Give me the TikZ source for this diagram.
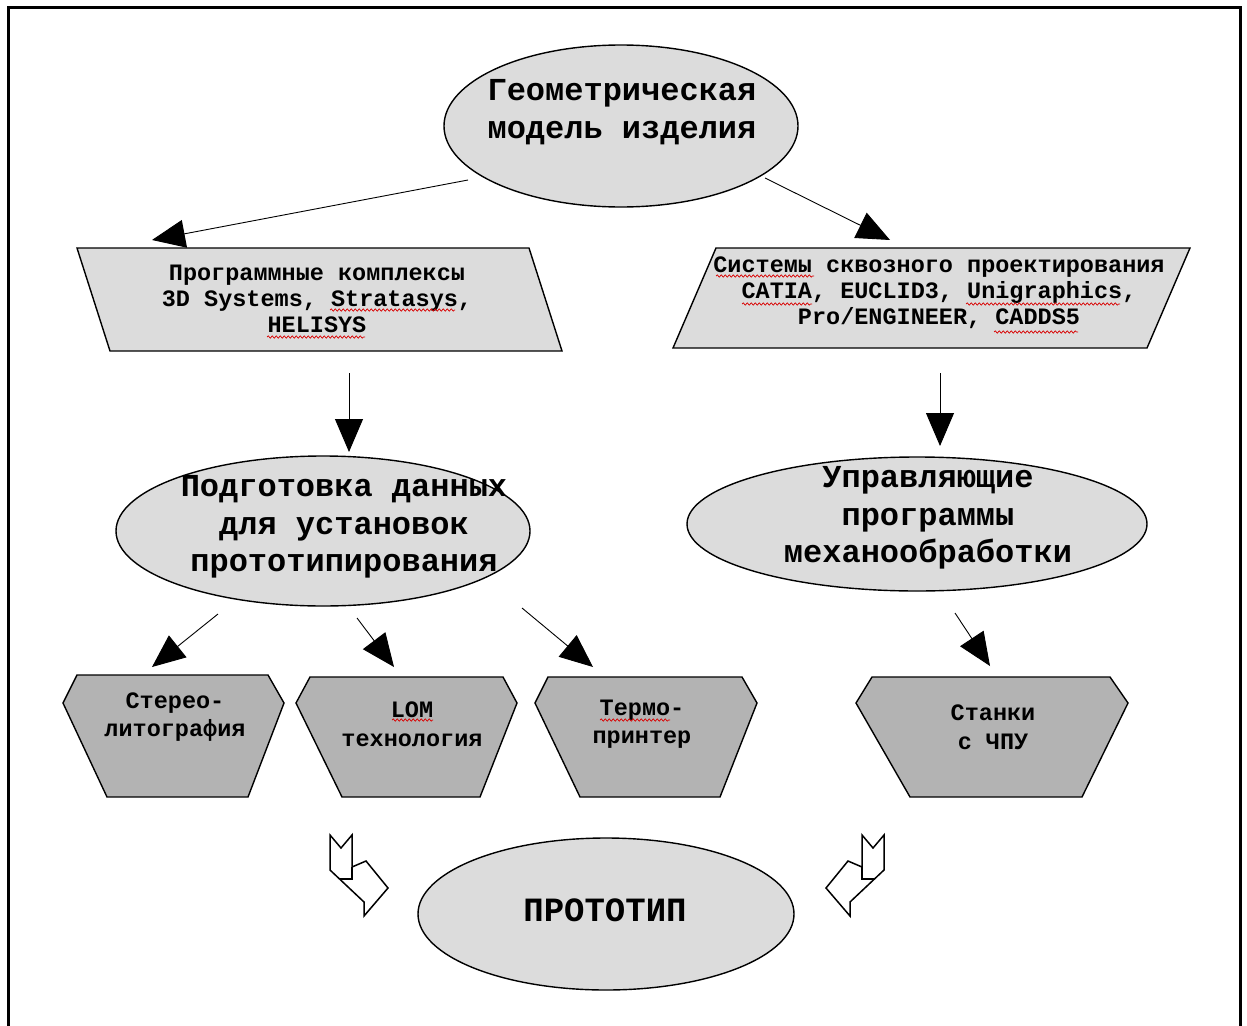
\documentclass[tikz,border=0pt]{standalone}
\usepackage{fontspec}
\newfontfamily\diafont{Liberation Mono}
\usetikzlibrary{shapes.geometric,arrows.meta,decorations.pathmorphing}
\definecolor{paleshape}{HTML}{DCDCDC}
\definecolor{darkshape}{HTML}{B3B3B3}
\begin{document}
\begin{tikzpicture}[x=1pt,y=-1pt,
  outline/.style={draw=black,line width=1.4pt},
  paleoval/.style={ellipse,outline,fill=paleshape,inner sep=0pt,outer sep=0pt},
  bigtext/.style={font=\diafont\bfseries\fontsize{32}{37.5}\selectfont,align=center,inner sep=0pt},
  smalltext/.style={font=\diafont\bfseries\fontsize{23.5}{26}\selectfont,align=center,inner sep=0pt},
  hextext/.style={font=\diafont\bfseries\fontsize{23.5}{28.5}\selectfont,align=center,inner sep=0pt},
  flow/.style={line width=0.9pt,-{Triangle[length=33pt,width=28pt]}},
  spell/.style={draw=red!85!black,line width=0.7pt,decorate,
    decoration={snake,amplitude=1.2pt,segment length=4pt}},
  holder/.style={inner sep=0pt,outer sep=0pt,draw=none}]
\useasboundingbox (0,0) rectangle (1247,1025);

% page frame
\draw[line width=3pt] (8,1040) -- (8,8) -- (1240,8) -- (1240,1040);

% ---- top level: geometric model
\node[paleoval,minimum width=354pt,minimum height=162pt] (geom) at (621,126) {};
\node[bigtext] (geomtxt) at (622,112) {Геометрическая\\модель изделия};

% ---- software parallelograms
\draw[outline,fill=paleshape] (77,248) -- (529,248) -- (562,351) -- (110,351) -- cycle;
\node[holder,minimum width=452pt,minimum height=103pt] (softleft) at (320,300) {};
\node[smalltext] (softlefttxt) at (317,299)
  {Программные комплексы\\3D Systems, Stratasys,\\HELISYS};

\draw[outline,fill=paleshape] (716,248) -- (1190,248) -- (1147,348) -- (673,348) -- cycle;
\node[holder,minimum width=474pt,minimum height=100pt] (softright) at (932,298) {};
\node[smalltext] (softrighttxt) at (939,293)
  {Системы сквозного проектирования\\CATIA, EUCLID3, Unigraphics,\\Pro/ENGINEER, CADDS5};

% ---- second level ellipses
\node[paleoval,minimum width=414pt,minimum height=150pt] (prep) at (323,531) {};
\node[bigtext] (preptxt) at (344,527) {Подготовка данных\\для установок\\прототипирования};

\node[paleoval,minimum width=460pt,minimum height=134pt] (cnc) at (917,524) {};
\node[bigtext] (cnctxt) at (928,518) {Управляющие\\программы\\механообработки};

% ---- machines
\draw[outline,fill=darkshape] (77,675) -- (268,675) -- (284,703) -- (248,797) -- (107,797) -- (63,703) -- cycle;
\draw[outline,fill=darkshape] (310,677) -- (503,677) -- (517,703) -- (480,797) -- (342,797) -- (296,703) -- cycle;
\draw[outline,fill=darkshape] (548,677) -- (742,677) -- (757,703) -- (720,797) -- (580,797) -- (535,703) -- cycle;
\draw[outline,fill=darkshape] (872,677) -- (1110,677) -- (1128,703) -- (1082,797) -- (910,797) -- (856,703) -- cycle;
\node[holder,minimum width=221pt,minimum height=122pt] (stereo) at (173,736) {};
\node[holder,minimum width=221pt,minimum height=120pt] (lom) at (406,737) {};
\node[holder,minimum width=222pt,minimum height=120pt] (thermo) at (646,737) {};
\node[holder,minimum width=272pt,minimum height=120pt] (lathe) at (992,737) {};
\node[hextext] (stereotxt) at (175,717) {Стерео-\\литография};
\node[hextext] (lomtxt) at (412,724) {LOM\\технология};
\node[hextext] (thermotxt) at (642,724) {Термо-\\принтер};
\node[hextext] (lathetxt) at (993,727) {Станки\\с ЧПУ};

% ---- result
\node[paleoval,minimum width=376pt,minimum height=152pt] (proto) at (606,914) {};
\node[font=\diafont\bfseries\fontsize{34}{40}\selectfont,inner sep=0pt] (prototxt) at (605,910) {ПРОТОТИП};

% ---- arrow start points (the lines stop short of the shapes)
\coordinate (fromGeomL) at (468,180);
\coordinate (fromGeomR) at (765,178);
\coordinate (fromSoftL) at (349,373);
\coordinate (fromSoftR) at (940,373);
\coordinate (fromPrepA) at (218,614);
\coordinate (fromPrepB) at (357,618);
\coordinate (fromPrepC) at (522,608);
\coordinate (fromCnc) at (955,613);

% ---- arrow end points
\coordinate (toSoftL) at (152,240);
\coordinate (toSoftR) at (890,240);
\coordinate (toPrep) at (349,452);
\coordinate (toCnc) at (940,446);
\coordinate (toStereo) at (152,667);
\coordinate (toLom) at (394,667);
\coordinate (toThermo) at (593,667);
\coordinate (toLathe) at (990,666);

% ---- connectors
\draw[flow] (fromGeomL) -- (toSoftL);
\draw[flow] (fromGeomR) -- (toSoftR);
\draw[flow] (fromSoftL) -- (toPrep);
\draw[flow] (fromSoftR) -- (toCnc);
\draw[flow] (fromPrepA) -- (toStereo);
\draw[flow] (fromPrepB) -- (toLom);
\draw[flow] (fromPrepC) -- (toThermo);
\draw[flow] (fromCnc) -- (toLathe);

% ---- hollow bent arrows towards the prototype
\begin{scope}[shift={(330,835)}]
  \draw[fill=white,line width=1.5pt,line join=miter]
    (0,0) -- (11,13) -- (22,0) -- (22,32) -- (36,26) -- (58,53) -- (34,81) -- (34,67) -- (0,35) -- cycle;
  \draw[line width=1.5pt] (22,32) -- (22,44) -- (10,44);
\end{scope}
\begin{scope}[shift={(884,835)},xscale=-1]
  \draw[fill=white,line width=1.5pt,line join=miter]
    (0,0) -- (11,13) -- (22,0) -- (22,32) -- (36,26) -- (58,53) -- (34,81) -- (34,67) -- (0,35) -- cycle;
  \draw[line width=1.5pt] (22,32) -- (22,44) -- (10,44);
\end{scope}

% ---- spelling marks under unknown words
\draw[spell] (330,310) -- (455,310);
\draw[spell] (267,337) -- (365,337);
\draw[spell] (716,276) -- (814,276);
\draw[spell] (742,304) -- (812,304);
\draw[spell] (966,304) -- (1120,304);
\draw[spell] (994,332) -- (1078,332);
\draw[spell] (392,720) -- (433,720);
\draw[spell] (600,720) -- (670,720);
\end{tikzpicture}
\end{document}
